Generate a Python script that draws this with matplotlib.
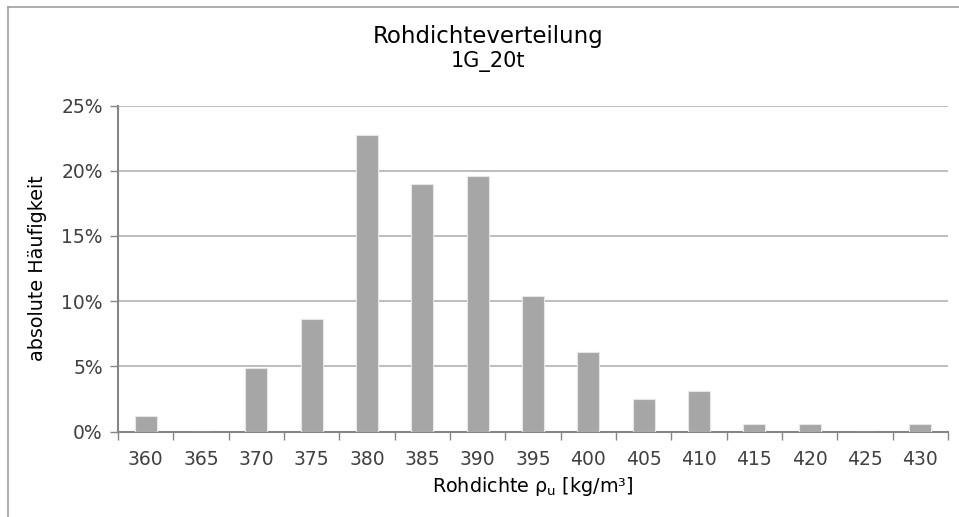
import matplotlib
matplotlib.use("Agg")
import matplotlib.pyplot as plt
from matplotlib.lines import Line2D
from matplotlib.ticker import FixedLocator, PercentFormatter

categories = ["360", "365", "370", "375", "380", "385", "390", "395",
              "400", "405", "410", "415", "420", "425", "430"]
values = [1.2, 0.0, 4.9, 8.6, 22.7, 19.0, 19.6, 10.4, 6.1, 2.5, 3.1, 0.6, 0.6, 0.0, 0.6]
yticks = [0, 5, 10, 15, 20, 25]

plt.rcParams['font.family'] = ['DejaVu Sans']

fig = plt.figure(figsize=(9.59, 5.17), dpi=100)
ax = fig.add_axes([118/959, 1-431.5/517, (948-118)/959, (431.5-105.5)/517])

x = list(range(len(categories)))
ax.bar(x, values, width=0.4, color="#A6A6A6", edgecolor="#E6E6E6", linewidth=0.8, zorder=3)

ax.set_xlim(-0.5, len(categories) - 0.5)
ax.set_ylim(0, 25)
ax.set_yticks(yticks)
ax.yaxis.set_major_formatter(PercentFormatter(decimals=0))
ax.set_xticks(x)
ax.set_xticklabels(categories)
ax.xaxis.set_minor_locator(FixedLocator([i - 0.5 for i in range(len(categories) + 1)]))
ax.tick_params(axis='x', which='major', length=0, pad=13, labelsize=13.5, colors="#404040")
ax.tick_params(axis='x', which='minor', length=6, width=1, color="#868686", direction='out')
ax.tick_params(axis='y', which='major', length=6, width=1, color="#868686", direction='out',
               labelsize=13.5, labelcolor="#404040", pad=5)
for lab in ax.get_xticklabels():
    lab.set_color("#404040")

ax.grid(axis='y', color="#B3B3B3", linewidth=1.2, zorder=0)
ax.set_axisbelow(True)
for s in ['top', 'right']:
    ax.spines[s].set_visible(False)
for s in ['left', 'bottom']:
    ax.spines[s].set_color("#868686")
    ax.spines[s].set_linewidth(1.5)

ax.set_xlabel("Rohdichte ρ$_\\mathregular{u}$ [kg/m³]", fontsize=13.8, labelpad=5)
ax.set_ylabel("absolute Häufigkeit", fontsize=13.8, labelpad=10)

cx = 488 / 959
fig.text(cx, 1 - 43/517, "Rohdichteverteilung", ha='center', va='baseline', fontsize=16.5)
fig.text(cx, 1 - 67/517, "1G_20t", ha='center', va='baseline', fontsize=15)

# chart border (top and left visible)
fig.add_artist(Line2D([8/959, 1.0], [1-7/517, 1-7/517], transform=fig.transFigure, color="#A0A0A0", linewidth=1.2))
fig.add_artist(Line2D([8/959, 8/959], [0.0, 1-7/517], transform=fig.transFigure, color="#A0A0A0", linewidth=1.2))

fig.savefig("out.png", dpi=100)
